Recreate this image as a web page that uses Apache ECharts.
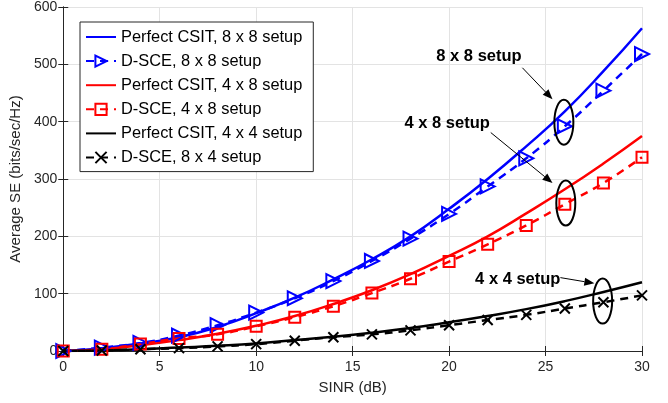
<!DOCTYPE html>
<html>
<head>
<meta charset="utf-8">
<script src="https://cdn.jsdelivr.net/npm/echarts@6/dist/echarts.min.js"></script>
<style>
  html, body { margin: 0; padding: 0; background: #fff; }
  #chart { width: 668px; height: 403px; }
</style>
</head>
<body>
<div id="chart"></div>
<script>
// SINR points (dB)
const sinr = [0, 2, 4, 6, 8, 10, 12, 14, 16, 18, 20, 22, 24, 26, 28, 30];

// Average SE values
const perfect8x8 = [0, 5, 13, 24, 42, 66, 93, 125, 160, 200, 248, 300, 357, 418, 488, 563];
const dsce8x8    = [0, 6, 14, 27, 45, 67, 92, 122, 157, 196, 239, 287, 336, 392, 454, 518];
const perfect4x8 = [0, 3, 10, 19, 30, 44, 61, 82, 106, 134, 166, 200, 240, 282, 327, 375];
const dsce4x8    = [0, 3, 12, 22, 29, 43, 59, 78, 101, 126, 156, 186, 219, 256, 293, 338];
const perfect4x4 = [0, 1, 3, 6, 9, 13, 19, 25, 32, 40, 50, 61, 73, 87, 103, 120];
const dsce8x4    = [0, 1, 3, 5, 8, 12, 18, 24, 29, 36, 45, 54, 63, 74, 85, 97];

const xTicks = [0, 5, 10, 15, 20, 25, 30];
const yTicks = [0, 100, 200, 300, 400, 500, 600];

// annotations in data coordinates
const notes = [
  { text: '8 x 8 setup', at: [21.55, 513], from: [23.8, 494], to: [25.36, 439], ellipse: [25.95, 399] },
  { text: '4 x 8 setup', at: [19.9, 397], from: [22.16, 381], to: [25.36, 293], ellipse: [26.05, 258] },
  { text: '4 x 4 setup', at: [23.56, 125], from: [25.77, 128], to: [27.53, 118], ellipse: [27.96, 87] }
];

const pair = (ys) => sinr.map((x, i) => [x, ys[i]]);
const font = 'Liberation Sans, Arial, Helvetica, sans-serif';
const axisCol = '#262626';
const crossPath = 'path://M0,0L10,10M10,0L0,10';

function solid(name, color, ys) {
  // invisible symbol so the legend shows a plain line
  return {
    name: name, type: 'line', data: pair(ys), smooth: true, showSymbol: false, symbol: 'circle',
    lineStyle: { color: color, width: 2.5 },
    itemStyle: { color: 'rgba(0,0,0,0)', borderColor: 'rgba(0,0,0,0)', borderWidth: 0 }, z: 3
  };
}
function dashed(name, color, ys, symbol, size, rotate) {
  return {
    name: name, type: 'line', data: pair(ys), smooth: true,
    symbol: symbol, symbolSize: size, symbolRotate: rotate || 0,
    lineStyle: { color: color, width: 2.5, type: [8, 6] },
    itemStyle: { color: 'none', borderColor: color, borderWidth: 2 },
    z: 4
  };
}

const chart = echarts.init(document.getElementById('chart'));
const option = {
  animation: false,
  backgroundColor: '#fff',
  textStyle: { fontFamily: font },
  grid: { left: 60, right: 26, top: 5, bottom: 52 },
  legend: {
    orient: 'vertical', left: 80, top: 22,
    backgroundColor: '#fff', borderColor: axisCol, borderWidth: 1,
    padding: [7, 11, 6, 5], itemWidth: 30, itemHeight: 14, itemGap: 8,
    textStyle: { fontSize: 16.4, color: '#000', fontFamily: font },
    data: ['Perfect CSIT, 8 x 8 setup', 'D-SCE, 8 x 8 setup', 'Perfect CSIT, 4 x 8 setup',
           'D-SCE, 4 x 8 setup', 'Perfect CSIT, 4 x 4 setup', 'D-SCE, 8 x 4 setup']
  },
  xAxis: [{
    type: 'value', min: 0, max: 30, interval: 5,
    name: 'SINR (dB)', nameLocation: 'middle', nameGap: 29,
    nameTextStyle: { fontSize: 15, color: axisCol },
    axisLine: { onZero: false, lineStyle: { color: axisCol } },
    axisTick: { inside: true, length: 5, lineStyle: { color: axisCol } },
    axisLabel: { fontSize: 14, color: axisCol, margin: 9, formatter: v => xTicks.includes(v) ? v : '' },
    splitLine: { lineStyle: { color: '#e3e3e3' } }
  }, {
    type: 'value', position: 'top', min: 0, max: 30, interval: 5,
    axisLine: { show: true, lineStyle: { color: axisCol } },
    axisTick: { inside: true, length: 5, lineStyle: { color: axisCol } },
    axisLabel: { show: false }, splitLine: { show: false }
  }],
  yAxis: [{
    type: 'value', min: 0, max: 600, interval: 100,
    name: 'Average SE (bits/sec/Hz)', nameLocation: 'middle', nameGap: 32,
    nameTextStyle: { fontSize: 15, color: axisCol },
    axisLine: { show: true, onZero: false, lineStyle: { color: axisCol } },
    axisTick: { show: true, inside: true, length: 5, lineStyle: { color: axisCol } },
    axisLabel: { fontSize: 14, color: axisCol, margin: 6, formatter: v => yTicks.includes(v) ? v : '' },
    splitLine: { lineStyle: { color: '#e3e3e3' } }
  }, {
    type: 'value', position: 'right', min: 0, max: 600, interval: 100,
    axisLine: { show: true, lineStyle: { color: axisCol } },
    axisTick: { show: true, inside: true, length: 5, lineStyle: { color: axisCol } },
    axisLabel: { show: false }, splitLine: { show: false }
  }],
  series: [
    solid('Perfect CSIT, 8 x 8 setup', '#0000ff', perfect8x8),
    dashed('D-SCE, 8 x 8 setup', '#0000ff', dsce8x8, 'triangle', 14, -90),
    solid('Perfect CSIT, 4 x 8 setup', '#ff0000', perfect4x8),
    dashed('D-SCE, 4 x 8 setup', '#ff0000', dsce4x8, 'rect', 11),
    solid('Perfect CSIT, 4 x 4 setup', '#000000', perfect4x4),
    dashed('D-SCE, 8 x 4 setup', '#000000', dsce8x4, crossPath, 10)
  ]
};
chart.setOption(option);

// annotations: label, arrow and ellipse placed through the axes
const gfx = [];
notes.forEach(n => {
  const t = chart.convertToPixel({ gridIndex: 0 }, n.at);
  const a = chart.convertToPixel({ gridIndex: 0 }, n.from);
  const b = chart.convertToPixel({ gridIndex: 0 }, n.to);
  const e = chart.convertToPixel({ gridIndex: 0 }, n.ellipse);
  gfx.push({
    type: 'text', x: t[0], y: t[1], z: 10,
    style: { text: n.text, font: 'bold 16.5px ' + font, fill: '#000', align: 'center', verticalAlign: 'middle' }
  });
  const ang = Math.atan2(b[1] - a[1], b[0] - a[0]);
  const hl = 10, hw = 4;
  const bx = b[0] - hl * Math.cos(ang), by = b[1] - hl * Math.sin(ang);
  gfx.push({
    type: 'line', z: 10,
    shape: { x1: a[0], y1: a[1], x2: bx, y2: by },
    style: { stroke: '#000', lineWidth: 1 }
  });
  gfx.push({
    type: 'polygon', z: 10,
    shape: { points: [b,
      [bx + hw * Math.sin(ang), by - hw * Math.cos(ang)],
      [bx - hw * Math.sin(ang), by + hw * Math.cos(ang)]] },
    style: { fill: '#000' }
  });
  gfx.push({
    type: 'ellipse', z: 10,
    shape: { cx: e[0], cy: e[1], rx: 9.5, ry: 22.5 },
    style: { fill: 'none', stroke: '#000', lineWidth: 2 }
  });
});
chart.setOption({ graphic: gfx });
</script>
</body>
</html>
